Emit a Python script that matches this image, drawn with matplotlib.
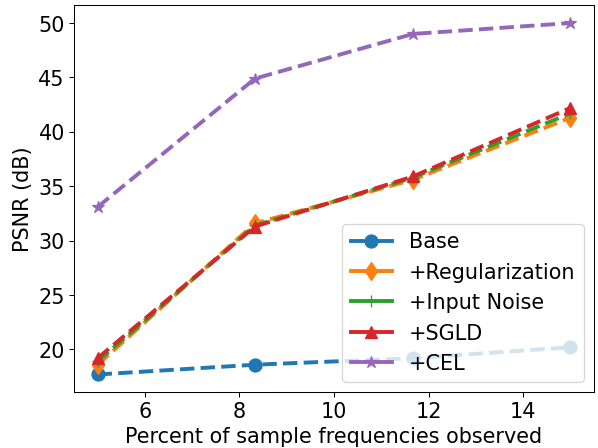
import matplotlib
matplotlib.use("Agg")
import matplotlib.pyplot as plt

percent_observed = [5, 8.33, 11.67, 15]

psnr_base = [17.7, 18.6, 19.2, 20.2]
psnr_regularization = [18.6, 31.6, 35.6, 41.3]
psnr_input_noise = [18.9, 31.4, 35.8, 41.7]
psnr_sgld = [19.2, 31.3, 35.9, 42.2]
psnr_cel = [33.1, 44.9, 49.0, 50.0]

labels = ["Base", "+Regularization", "+Input Noise", "+SGLD", "+CEL"]
markers = ["o", "d", "+", "^", "*"]


def make_plot():
    plt.rcParams["font.size"] = 16

    fig, ax = plt.subplots(figsize=(6.4, 4.8), dpi=93.44)
    fig.subplots_adjust(left=74 / 598, right=594 / 598,
                        top=1 - 6 / 449, bottom=1 - 393 / 449)

    series = [psnr_base, psnr_regularization, psnr_input_noise, psnr_sgld, psnr_cel]
    for values, label, marker in zip(series, labels, markers):
        ax.plot(percent_observed, values, linestyle="--", linewidth=3,
                marker=marker, markersize=10, label=label)

    ax.set_xlabel("Percent of sample frequencies observed")
    ax.set_ylabel("PSNR (dB)")

    leg = ax.legend(loc="lower right")
    for line in leg.get_lines():
        line.set_linestyle("-")

    plt.savefig("out.png")
    plt.close()


if __name__ == "__main__":
    make_plot()
